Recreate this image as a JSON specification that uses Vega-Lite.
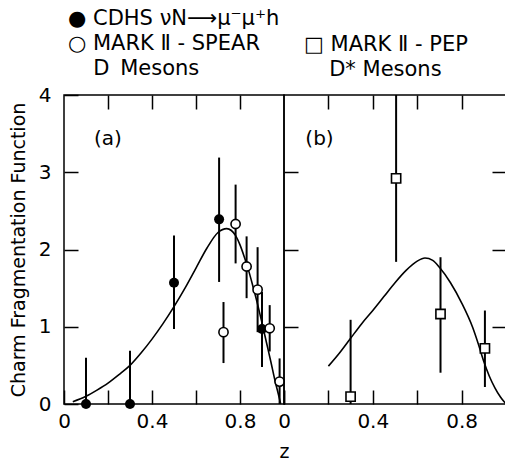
{
  "$schema": "https://vega.github.io/schema/vega-lite/v6.json",
  "background": "white",
  "padding": {"left": 8, "top": 7, "right": 0, "bottom": 0},
  "config": {
    "font": "DejaVu Sans",
    "view": {"stroke": "black", "strokeWidth": 1.5},
    "axis": {
      "labelFont": "DejaVu Sans", "labelFontSize": 20, "labelColor": "black",
      "titleFont": "DejaVu Sans", "titleFontSize": 19, "titleFontWeight": "normal", "titleColor": "black",
      "tickColor": "black", "tickWidth": 1.5, "tickSize": -14,
      "domain": false, "grid": false, "labelFlush": false, "labelOverlap": false
    },
    "title": {"font": "DejaVu Sans", "fontSize": 21, "fontWeight": "normal", "color": "black", "anchor": "start", "frame": "group", "lineHeight": 25}
  },
  "datasets": {
    "points": [
      {"panel": "a", "series": "CDHS", "z": 0.1, "F": 0, "lo": 0, "hi": 0.6},
      {"panel": "a", "series": "CDHS", "z": 0.3, "F": 0, "lo": 0, "hi": 0.69},
      {"panel": "a", "series": "CDHS", "z": 0.5, "F": 1.57, "lo": 0.97, "hi": 2.18},
      {"panel": "a", "series": "CDHS", "z": 0.705, "F": 2.39, "lo": 1.58, "hi": 3.19},
      {"panel": "a", "series": "CDHS", "z": 0.9, "F": 0.97, "lo": 0.48, "hi": 1.45},
      {"panel": "a", "series": "SPEAR", "z": 0.725, "F": 0.93, "lo": 0.53, "hi": 1.32},
      {"panel": "a", "series": "SPEAR", "z": 0.78, "F": 2.33, "lo": 1.82, "hi": 2.84},
      {"panel": "a", "series": "SPEAR", "z": 0.83, "F": 1.78, "lo": 1.37, "hi": 2.17},
      {"panel": "a", "series": "SPEAR", "z": 0.88, "F": 1.48, "lo": 0.93, "hi": 2.03},
      {"panel": "a", "series": "SPEAR", "z": 0.935, "F": 0.98, "lo": 0.68, "hi": 1.28},
      {"panel": "a", "series": "SPEAR", "z": 0.98, "F": 0.29, "lo": 0, "hi": 0.59},
      {"panel": "b", "series": "PEP", "z": 0.3, "F": 0.095, "lo": 0, "hi": 1.09},
      {"panel": "b", "series": "PEP", "z": 0.505, "F": 2.92, "lo": 1.84, "hi": 4.0},
      {"panel": "b", "series": "PEP", "z": 0.705, "F": 1.165, "lo": 0.405, "hi": 1.9},
      {"panel": "b", "series": "PEP", "z": 0.905, "F": 0.72, "lo": 0.22, "hi": 1.21}
    ],
    "curves": [
      {"panel": "a", "z": 0.04, "F": 0.03},
      {"panel": "a", "z": 0.1, "F": 0.1},
      {"panel": "a", "z": 0.15, "F": 0.18},
      {"panel": "a", "z": 0.2, "F": 0.27},
      {"panel": "a", "z": 0.25, "F": 0.38},
      {"panel": "a", "z": 0.3, "F": 0.5},
      {"panel": "a", "z": 0.35, "F": 0.66},
      {"panel": "a", "z": 0.4, "F": 0.84},
      {"panel": "a", "z": 0.45, "F": 1.04},
      {"panel": "a", "z": 0.5, "F": 1.26},
      {"panel": "a", "z": 0.55, "F": 1.5},
      {"panel": "a", "z": 0.6, "F": 1.76},
      {"panel": "a", "z": 0.65, "F": 2.02},
      {"panel": "a", "z": 0.7, "F": 2.22},
      {"panel": "a", "z": 0.74, "F": 2.27},
      {"panel": "a", "z": 0.78, "F": 2.18},
      {"panel": "a", "z": 0.8, "F": 2.06},
      {"panel": "a", "z": 0.82, "F": 1.9},
      {"panel": "a", "z": 0.84, "F": 1.72},
      {"panel": "a", "z": 0.86, "F": 1.51},
      {"panel": "a", "z": 0.88, "F": 1.29},
      {"panel": "a", "z": 0.9, "F": 1.05},
      {"panel": "a", "z": 0.92, "F": 0.8},
      {"panel": "a", "z": 0.94, "F": 0.55},
      {"panel": "a", "z": 0.96, "F": 0.29},
      {"panel": "a", "z": 0.975, "F": 0.12},
      {"panel": "a", "z": 0.985, "F": 0.0},
      {"panel": "b", "z": 0.2, "F": 0.49},
      {"panel": "b", "z": 0.25, "F": 0.66},
      {"panel": "b", "z": 0.3, "F": 0.85},
      {"panel": "b", "z": 0.35, "F": 1.04},
      {"panel": "b", "z": 0.4, "F": 1.21},
      {"panel": "b", "z": 0.45, "F": 1.39},
      {"panel": "b", "z": 0.5, "F": 1.57},
      {"panel": "b", "z": 0.55, "F": 1.73},
      {"panel": "b", "z": 0.6, "F": 1.85},
      {"panel": "b", "z": 0.635, "F": 1.89},
      {"panel": "b", "z": 0.67, "F": 1.86},
      {"panel": "b", "z": 0.7, "F": 1.77},
      {"panel": "b", "z": 0.75, "F": 1.57},
      {"panel": "b", "z": 0.8, "F": 1.31},
      {"panel": "b", "z": 0.85, "F": 0.99},
      {"panel": "b", "z": 0.875, "F": 0.78},
      {"panel": "b", "z": 0.9, "F": 0.55},
      {"panel": "b", "z": 0.925, "F": 0.36},
      {"panel": "b", "z": 0.95, "F": 0.21},
      {"panel": "b", "z": 0.975, "F": 0.09},
      {"panel": "b", "z": 1.0, "F": 0.0}
    ],
    "tags": [
      {"panel": "a", "tag": "(a)", "z": 0.2, "F": 3.43},
      {"panel": "b", "tag": "(b)", "z": 0.16, "F": 3.43}
    ]
  },
  "spacing": 0,
  "bounds": "flush",
  "hconcat": [
    {
      "width": 220, "height": 309,
      "title": {"text": ["● CDHS νN⟶μ⁻μ⁺h", "○ MARK Ⅱ - SPEAR", "\u200b\u2003\u2009D\u00a0\u2009Mesons"], "dx": 4, "offset": 6},
      "resolve": {"axis": {"x": "independent", "y": "independent"}},
      "layer": [
        {
          "data": {"name": "curves"},
          "transform": [{"filter": "datum.panel == 'a'"}],
          "mark": {"type": "line", "color": "black", "strokeWidth": 1.6, "interpolate": "monotone"},
          "encoding": {
            "x": {"field": "z", "type": "quantitative", "scale": {"domain": [0, 1], "nice": false, "zero": false},
              "axis": {"orient": "bottom", "values": [0, 0.2, 0.4, 0.6, 0.8, 1],
                "labelExpr": "datum.value == 0 ? '0' : datum.value == 0.4 ? '0.4' : datum.value == 0.8 ? '0.8' : ''",
                "labelPadding": 21, "title": "z", "titleX": 220, "titleY": 57, "titleAlign": "center", "titleBaseline": "bottom"}},
            "y": {"field": "F", "type": "quantitative", "scale": {"domain": [0, 4], "nice": false},
              "axis": {"orient": "left", "values": [0, 1, 2, 3, 4], "labelPadding": 27, "title": "Charm Fragmentation Function", "titlePadding": 10}}
          }
        },
        {
          "data": {"name": "points"},
          "transform": [{"filter": "datum.panel == 'a'"}],
          "mark": {"type": "rule", "color": "black", "strokeWidth": 2},
          "encoding": {
            "x": {"field": "z", "type": "quantitative", "scale": {"domain": [0, 1], "nice": false, "zero": false},
              "axis": {"orient": "top", "values": [0.2, 0.4, 0.6, 0.8], "labels": false, "title": null}},
            "y": {"field": "lo", "type": "quantitative", "scale": {"domain": [0, 4], "nice": false}, "axis": null},
            "y2": {"field": "hi"}
          }
        },
        {
          "data": {"name": "points"},
          "transform": [{"filter": "datum.series == 'CDHS'"}],
          "mark": {"type": "point", "shape": "circle", "filled": true, "color": "black", "size": 100, "opacity": 1},
          "encoding": {
            "x": {"field": "z", "type": "quantitative", "scale": {"domain": [0, 1], "nice": false, "zero": false}, "axis": null},
            "y": {"field": "F", "type": "quantitative", "scale": {"domain": [0, 4], "nice": false}, "axis": null}
          }
        },
        {
          "data": {"name": "points"},
          "transform": [{"filter": "datum.series == 'SPEAR'"}],
          "mark": {"type": "point", "shape": "circle", "filled": false, "fill": "white", "fillOpacity": 1, "stroke": "black", "strokeWidth": 1.6, "size": 85, "opacity": 1},
          "encoding": {
            "x": {"field": "z", "type": "quantitative", "scale": {"domain": [0, 1], "nice": false, "zero": false}, "axis": null},
            "y": {"field": "F", "type": "quantitative", "scale": {"domain": [0, 4], "nice": false}, "axis": null}
          }
        },
        {
          "data": {"name": "tags"},
          "transform": [{"filter": "datum.panel == 'a'"}],
          "mark": {"type": "text", "font": "DejaVu Sans", "fontSize": 20, "color": "black", "align": "center", "baseline": "middle"},
          "encoding": {
            "x": {"field": "z", "type": "quantitative", "scale": {"domain": [0, 1], "nice": false, "zero": false}, "axis": null},
            "y": {"field": "F", "type": "quantitative", "scale": {"domain": [0, 4], "nice": false}, "axis": null},
            "text": {"field": "tag"}
          }
        }
      ]
    },
    {
      "width": 222, "height": 309,
      "title": {"text": ["\u00a0", "□ MARK Ⅱ - PEP", "\u200b\u2003\u2009D* Mesons"], "dx": 20, "offset": 14},
      "resolve": {"axis": {"x": "independent", "y": "independent"}},
      "layer": [
        {
          "data": {"name": "curves"},
          "transform": [{"filter": "datum.panel == 'b'"}],
          "mark": {"type": "line", "color": "black", "strokeWidth": 1.6, "interpolate": "monotone"},
          "encoding": {
            "x": {"field": "z", "type": "quantitative", "scale": {"domain": [0, 1], "nice": false, "zero": false},
              "axis": {"orient": "bottom", "values": [0, 0.2, 0.4, 0.6, 0.8, 1],
                "labelExpr": "datum.value == 0 ? '0' : datum.value == 0.4 ? '0.4' : datum.value == 0.8 ? '0.8' : ''",
                "labelPadding": 21, "title": null}},
            "y": {"field": "F", "type": "quantitative", "scale": {"domain": [0, 4], "nice": false},
              "axis": {"orient": "left", "values": [1, 2, 3], "labels": false, "title": null}}
          }
        },
        {
          "data": {"name": "points"},
          "transform": [{"filter": "datum.panel == 'b'"}],
          "mark": {"type": "rule", "color": "black", "strokeWidth": 2},
          "encoding": {
            "x": {"field": "z", "type": "quantitative", "scale": {"domain": [0, 1], "nice": false, "zero": false},
              "axis": {"orient": "top", "values": [0.2, 0.4, 0.6, 0.8], "labels": false, "title": null}},
            "y": {"field": "lo", "type": "quantitative", "scale": {"domain": [0, 4], "nice": false},
              "axis": {"orient": "right", "values": [1, 2, 3], "labels": false, "title": null}},
            "y2": {"field": "hi"}
          }
        },
        {
          "data": {"name": "points"},
          "transform": [{"filter": "datum.series == 'PEP'"}],
          "mark": {"type": "point", "shape": "square", "filled": false, "fill": "white", "fillOpacity": 1, "stroke": "black", "strokeWidth": 1.6, "size": 85, "opacity": 1},
          "encoding": {
            "x": {"field": "z", "type": "quantitative", "scale": {"domain": [0, 1], "nice": false, "zero": false}, "axis": null},
            "y": {"field": "F", "type": "quantitative", "scale": {"domain": [0, 4], "nice": false}, "axis": null}
          }
        },
        {
          "data": {"name": "tags"},
          "transform": [{"filter": "datum.panel == 'b'"}],
          "mark": {"type": "text", "font": "DejaVu Sans", "fontSize": 20, "color": "black", "align": "center", "baseline": "middle"},
          "encoding": {
            "x": {"field": "z", "type": "quantitative", "scale": {"domain": [0, 1], "nice": false, "zero": false}, "axis": null},
            "y": {"field": "F", "type": "quantitative", "scale": {"domain": [0, 4], "nice": false}, "axis": null},
            "text": {"field": "tag"}
          }
        }
      ]
    }
  ]
}
